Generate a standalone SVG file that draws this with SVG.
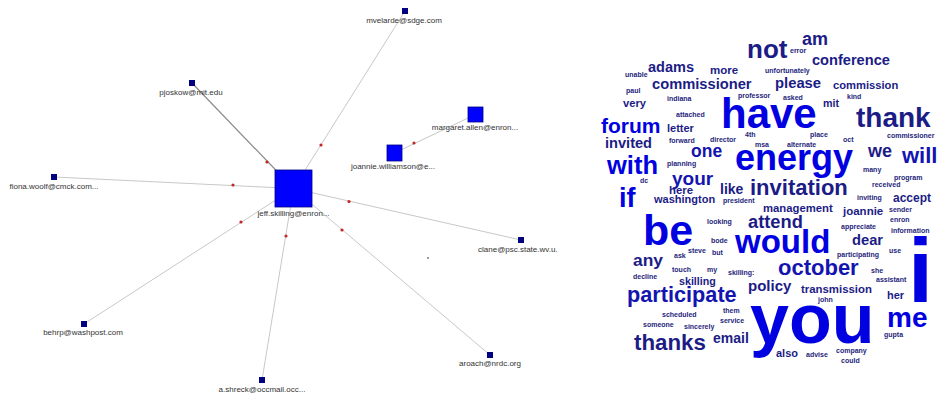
<svg xmlns="http://www.w3.org/2000/svg" width="937" height="394" viewBox="0 0 937 394">
<style>
.edge{stroke:#c8c8c8;stroke-width:1;fill:none}
.edge.dark{stroke:#8a8a8a;stroke-width:1.2}
.dot{fill:#c02828}
.sm{fill:#000080}
.big{fill:#0000ff;stroke:#000080;stroke-width:0.8}
.lbl{font-family:"Liberation Sans",Arial,sans-serif;font-size:8px;fill:#333;text-anchor:middle}
.w{font-family:"Liberation Sans",Arial,sans-serif;font-weight:bold}
.c1{fill:#0000e0}
.c2{fill:#1414b0}
.c3{fill:#1c1c86}
.t{font-size:7px;fill:#26267a}
</style>
<rect width="937" height="394" fill="#ffffff"/>
<g id="connectors">
<line class="edge dark" x1="192" y1="83" x2="293.5" y2="188.5"/>
<line class="edge" x1="54" y1="177" x2="293.5" y2="188.5"/>
<line class="edge" x1="405" y1="11" x2="293.5" y2="188.5"/>
<line class="edge" x1="521" y1="240" x2="293.5" y2="188.5"/>
<line class="edge" x1="490" y1="355" x2="293.5" y2="188.5"/>
<line class="edge" x1="262" y1="380" x2="293.5" y2="188.5"/>
<line class="edge" x1="84" y1="324" x2="293.5" y2="188.5"/>
<line class="edge" x1="394.5" y1="153" x2="475.5" y2="114.5"/>
<circle class="dot" cx="267" cy="162" r="1.6"/>
<circle class="dot" cx="233" cy="185" r="1.6"/>
<circle class="dot" cx="321" cy="145" r="1.6"/>
<circle class="dot" cx="349" cy="201.5" r="1.6"/>
<circle class="dot" cx="342" cy="230" r="1.6"/>
<circle class="dot" cx="286" cy="236" r="1.6"/>
<circle class="dot" cx="241" cy="222" r="1.6"/>
<circle class="dot" cx="414" cy="143" r="1.6"/>
<circle cx="428" cy="258" r="0.8" fill="#222"/>
</g>
<g id="n-jeff"><rect class="big" x="275" y="170" width="37" height="37"/><text class="lbl" x="293.5" y="216">jeff.skilling@enron...</text></g>
<g id="n-pjoskow"><rect class="sm" x="189" y="80" width="6" height="6"/><text class="lbl" x="191" y="95">pjoskow@mit.edu</text></g>
<g id="n-fiona"><rect class="sm" x="51" y="174" width="6" height="6"/><text class="lbl" x="54" y="189">fiona.woolf@cmck.com...</text></g>
<g id="n-mvelarde"><rect class="sm" x="402" y="8" width="6" height="6"/><text class="lbl" x="404" y="23">mvelarde@sdge.com</text></g>
<g id="n-margaret"><rect class="big" x="468" y="107" width="15" height="15"/><text class="lbl" x="475" y="130">margaret.allen@enron...</text></g>
<g id="n-joannie"><rect class="big" x="387" y="145" width="15" height="16"/><text class="lbl" x="393" y="169">joannie.williamson@e...</text></g>
<g id="n-clane"><rect class="sm" x="518" y="237" width="6" height="6"/><text class="lbl" x="478" y="252" style="text-anchor:start">clane@psc.state.wv.u.</text></g>
<g id="n-aroach"><rect class="sm" x="487" y="352" width="6" height="6"/><text class="lbl" x="490" y="366">aroach@nrdc.org</text></g>
<g id="n-shreck"><rect class="sm" x="259" y="377" width="6" height="6"/><text class="lbl" x="262" y="392">a.shreck@occmail.occ...</text></g>
<g id="n-behrp"><rect class="sm" x="81" y="321" width="6" height="6"/><text class="lbl" x="83" y="335">behrp@washpost.com</text></g>
<g id="wordcloud" class="w">
<text class="c1" x="721" y="128" font-size="42">have</text>
<text class="c1" x="643" y="245" font-size="43">be</text>
<text class="c1" x="750" y="343" font-size="70">you</text>
<text class="c1" x="735" y="170" font-size="36">energy</text>
<text class="c1" x="735" y="253" font-size="33">would</text>
<text class="c1" x="908" y="302" font-size="90">i</text>
<text class="c1" x="887" y="327" font-size="28">me</text>
<text class="c3" x="856" y="127" font-size="28">thank</text>
<text class="c2" x="902" y="163" font-size="22">will</text>
<text class="c3" x="868" y="157" font-size="18">we</text>
<text class="c3" x="747" y="58" font-size="26">not</text>
<text class="c3" x="802" y="45" font-size="18">am</text>
<text class="c3" x="812" y="65" font-size="14.6">conference</text>
<text class="c3" x="775" y="88" font-size="14.8">please</text>
<text class="c3" x="833" y="89" font-size="11.2">commission</text>
<text class="c3" x="652" y="89" font-size="14.7">commissioner</text>
<text class="c3" x="648" y="72" font-size="14.5">adams</text>
<text class="c3" x="710" y="74" font-size="11.5">more</text>
<text class="c3" x="623" y="107" font-size="11.2">very</text>
<text class="c1" x="601" y="133" font-size="21">forum</text>
<text class="c3" x="667" y="132" font-size="11">letter</text>
<text class="c3" x="605" y="148" font-size="14.6">invited</text>
<text class="c2" x="691" y="157" font-size="17.5">one</text>
<text class="c1" x="607" y="174" font-size="25.5">with</text>
<text class="c2" x="672" y="185" font-size="19">your</text>
<text class="c3" x="669" y="194" font-size="11.4">here</text>
<text class="c3" x="720" y="194" font-size="14">like</text>
<text class="c3" x="750" y="195" font-size="22">invitation</text>
<text class="c1" x="619" y="207" font-size="27">if</text>
<text class="c3" x="654" y="203" font-size="11">washington</text>
<text class="c3" x="748" y="228" font-size="18.3">attend</text>
<text class="c3" x="763" y="212" font-size="11.3">management</text>
<text class="c3" x="843" y="215" font-size="11.5">joannie</text>
<text class="c3" x="893" y="202" font-size="12">accept</text>
<text class="c3" x="852" y="245" font-size="14.7">dear</text>
<text class="c3" x="633" y="266" font-size="17.4">any</text>
<text class="c3" x="679" y="285" font-size="10.7">skilling</text>
<text class="c2" x="627" y="302" font-size="21.7">participate</text>
<text class="c3" x="748" y="291" font-size="15">policy</text>
<text class="c2" x="778" y="275" font-size="22">october</text>
<text class="c3" x="801" y="293" font-size="11.4">transmission</text>
<text class="c3" x="887" y="299" font-size="11">her</text>
<text class="c3" x="634" y="350" font-size="22.3">thanks</text>
<text class="c3" x="713" y="343" font-size="14">email</text>
<text class="c3" x="776" y="357" font-size="11">also</text>
<text class="c3" x="823" y="107" font-size="10.7">mit</text>
<text class="t" x="625" y="77">unable</text>
<text class="t" x="626" y="93">paul</text>
<text class="t" x="667" y="101">indiana</text>
<text class="t" x="676" y="117">attached</text>
<text class="t" x="738" y="98">professor</text>
<text class="t" x="790" y="53">error</text>
<text class="t" x="765" y="73">unfortunately</text>
<text class="t" x="783" y="100">asked</text>
<text class="t" x="847" y="99">kind</text>
<text class="t" x="745" y="137" font-size="6">4th</text>
<text class="t" x="810" y="137">place</text>
<text class="t" x="843" y="142">oct</text>
<text class="t" x="887" y="138">commissioner</text>
<text class="t" x="787" y="147">alternate</text>
<text class="t" x="755" y="147">msa</text>
<text class="t" x="710" y="142">director</text>
<text class="t" x="669" y="143">forward</text>
<text class="t" x="667" y="166">planning</text>
<text class="t" x="640" y="183" font-size="6">dc</text>
<text class="t" x="723" y="203">president</text>
<text class="t" x="863" y="172">many</text>
<text class="t" x="894" y="180" font-size="5.5">program</text>
<text class="t" x="872" y="187" font-size="6.2">received</text>
<text class="t" x="857" y="200">inviting</text>
<text class="t" x="707" y="224">looking</text>
<text class="t" x="889" y="212">sender</text>
<text class="t" x="890" y="222">enron</text>
<text class="t" x="841" y="229">appreciate</text>
<text class="t" x="891" y="233">information</text>
<text class="t" x="711" y="243">bode</text>
<text class="t" x="674" y="258" font-size="6">ask</text>
<text class="t" x="688" y="253">steve</text>
<text class="t" x="712" y="255">but</text>
<text class="t" x="672" y="272">touch</text>
<text class="t" x="707" y="272">my</text>
<text class="t" x="728" y="275">skilling:</text>
<text class="t" x="633" y="279">decline</text>
<text class="t" x="837" y="257">participating</text>
<text class="t" x="889" y="253">use</text>
<text class="t" x="871" y="273">she</text>
<text class="t" x="876" y="282">assistant</text>
<text class="t" x="818" y="302">john</text>
<text class="t" x="662" y="317">scheduled</text>
<text class="t" x="723" y="313">them</text>
<text class="t" x="720" y="323" font-size="6.4">service</text>
<text class="t" x="643" y="327">someone</text>
<text class="t" x="684" y="329">sincerely</text>
<text class="t" x="884" y="337">gupta</text>
<text class="t" x="806" y="357">advise</text>
<text class="t" x="836" y="353">company</text>
<text class="t" x="841" y="363">could</text>
</g>
</svg>
